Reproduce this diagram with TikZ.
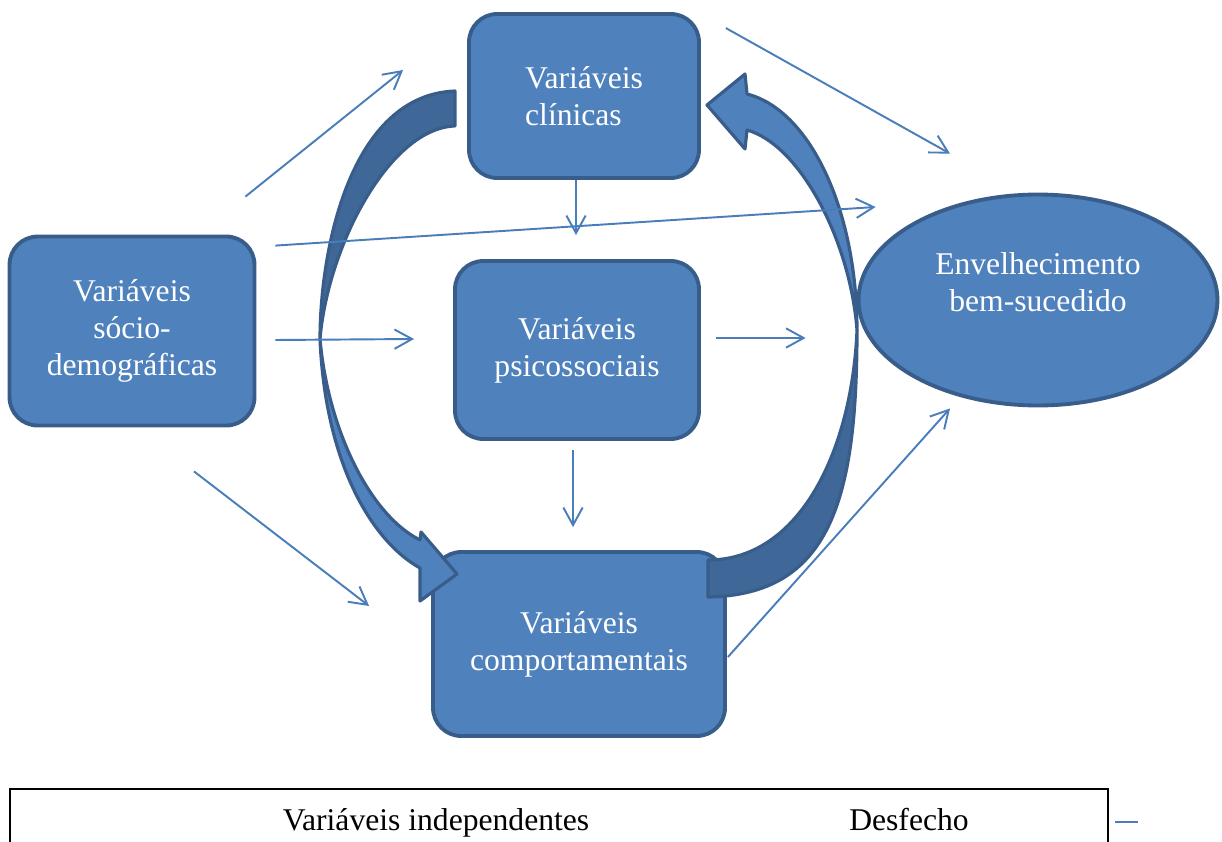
\documentclass[tikz,border=0pt]{standalone}
\usepackage{fontspec}
\setmainfont{Liberation Serif}
\usetikzlibrary{shapes.geometric,arrows.meta,calc}
\definecolor{boxfill}{HTML}{4F81BD}
\definecolor{boxline}{HTML}{385D8A}
\definecolor{backfill}{HTML}{3F6797}
\definecolor{linkcol}{HTML}{4A7EBB}
\tikzstyle{varbox} = [draw=boxline, fill=boxfill, line width=2.2pt,
    rectangle, rounded corners=16pt, inner sep=0pt, text=white,
    align=center, font=\fontsize{18}{21}\selectfont]
\tikzstyle{outcome} = [draw=boxline, fill=boxfill, line width=2.2pt,
    ellipse, inner sep=0pt, text=white,
    align=center, font=\fontsize{18}{21}\selectfont]
\tikzstyle{link} = [draw=linkcol, line width=1.1pt,
    -{Straight Barb[length=10pt,width=11pt]}]
\tikzstyle{bigarrow} = [draw=boxline, line width=1.8pt, line join=round]
\tikzstyle{legendtext} = [inner sep=0pt, anchor=base, font=\fontsize{18}{21}\selectfont]

\begin{document}
\begin{tikzpicture}[x=0.02cm, y=-0.02cm]
    \clip (0,0) rectangle (1222,841);
    \node[varbox, minimum width=4.6cm, minimum height=3.28cm, align=left] (clin) at (584,96) {Variáveis\\clínicas};
    \node[varbox, minimum width=4.88cm, minimum height=3.56cm] (psico) at (577,350) {Variáveis\\psicossociais};
    \node[varbox, minimum width=4.9cm, minimum height=3.78cm] (socio) at (132,331) {Variáveis\\sócio-\\demográficas};
    \node[varbox, minimum width=5.84cm, minimum height=3.68cm] (comport) at (579,644) {Variáveis\\comportamentais};
    \node[outcome, minimum width=7.18cm, minimum height=4.22cm] (ell) at (1038,300)
        {\raisebox{8pt}[\height][\depth]{\begin{tabular}{@{}c@{}}Envelhecimento\\bem-sucedido\end{tabular}}};

    \draw[bigarrow, fill=backfill] (455,91) .. controls (350,95) and (320,250) .. (320,339)
        .. controls (328,245) and (390,128) .. (455,126) -- cycle;
    \draw[bigarrow, fill=boxfill] (320,339) .. controls (325,460) and (370,540) .. (420,568)
        -- (420,601) -- (457,574) -- (421,532) -- (420,540)
        .. controls (370,515) and (328,430) .. (320,339) -- cycle;
    \draw[bigarrow, fill=backfill] (708,597) .. controls (830,595) and (857,500) .. (857,330)
        .. controls (852,450) and (800,560) .. (708,560) -- cycle;
    \draw[bigarrow, fill=boxfill] (857,330) .. controls (857,210) and (810,110) .. (747,94)
        -- (745,74) -- (707,105) -- (745,149) -- (747,130)
        .. controls (800,145) and (850,240) .. (857,330) -- cycle;

    \draw[link] ($(socio.north east)+(-11,-38)$) -- ($(clin.west)+(-64,-26)$);
    \draw[link] ($(socio.north east)+(19,11)$) -- ($(ell.west)+(19,-93)$);
    \draw[link] ($(socio.east)+(19,9)$) -- ($(psico.west)+(-39,-11)$);
    \draw[link] ($(socio.south)+(62,44)$) -- ($(comport.west)+(-62,-38)$);
    \draw[link] ($(clin.south)+(-8,0)$) -- ($(psico.north)+(-1,-24)$);
    \draw[link] ($(psico.south)+(-4,9)$) -- ($(comport.north)+(-6,-23)$);
    \draw[link] ($(psico.east)+(15,-12)$) -- ($(ell.west)+(-51,38)$);
    \draw[link] ($(clin.north east)+(25,16)$) -- ($(ell.north)+(-88,-39)$);
    \draw[link] ($(comport.east)+(1,13)$) -- ($(ell.south)+(-88,1)$);

    \draw[line width=0.8pt] (10,860) -- (10,789) -- (1108,789) -- (1108,860);
    \draw[line width=1.5pt] (10,789) -- (1108,789);
    \node[legendtext] (indep) at (436,830) {Variáveis independentes};
    \node[legendtext] (desf) at (909,830) {Desfecho};
    \draw[linkcol, line width=1.1pt] (1115,822) -- (1138,822);
\end{tikzpicture}
\end{document}
